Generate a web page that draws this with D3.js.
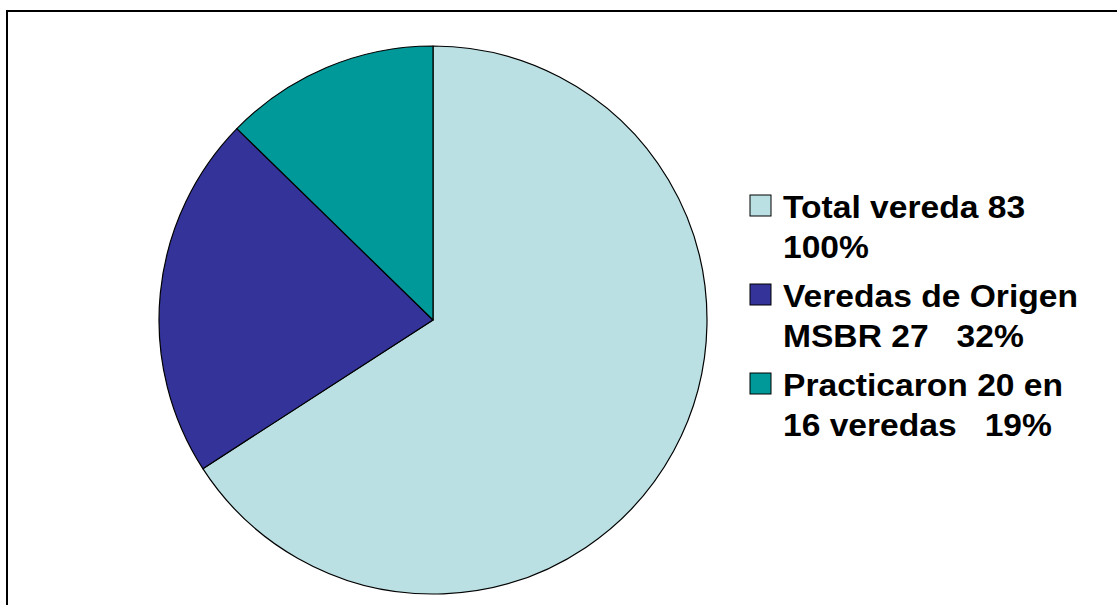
<!DOCTYPE html>
<html><head><meta charset="utf-8">
<script src="https://cdn.jsdelivr.net/npm/d3@7"></script>
<style>html,body{margin:0;padding:0;background:#fff;overflow:hidden}</style>
</head><body>
<svg id="c" width="1117" height="605"></svg>
<script>
const categories = ["Total vereda 83 100%", "Veredas de Origen MSBR 27 32%", "Practicaron 20 en 16 veredas 19%"];
const labelLines = [["Total vereda 83", "100%"], ["Veredas de Origen", "MSBR 27   32%"], ["Practicaron 20 en", "16 veredas   19%"]];
const values = [83, 27, 16];
const colors = ["#BBE0E3", "#333399", "#009999"];

const svg = d3.select("#c");
svg.append("rect").attr("x", 7).attr("y", 11).attr("width", 1300).attr("height", 800)
  .attr("fill", "#fff").attr("stroke", "#000").attr("stroke-width", 2);

const cx = 433, cy = 320, r = 274;
const pie = d3.pie().sort(null).value(d => d)(values);
const arc = d3.arc().innerRadius(0).outerRadius(r);
const g = svg.append("g").attr("transform", `translate(${cx},${cy})`);
g.selectAll("path").data(pie).join("path")
  .attr("d", arc).attr("fill", (d, i) => colors[i])
  .attr("stroke", "#000").attr("stroke-width", 1.2).attr("stroke-linejoin", "round");

const color = d3.scaleOrdinal().domain(categories).range(colors);
const leg = svg.append("g").attr("transform", "translate(750,195)");
const items = leg.selectAll("g").data(categories).join("g")
  .attr("transform", (d, i) => `translate(0,${i * 89})`);
items.append("rect").attr("width", 21).attr("height", 21)
  .attr("fill", d => color(d)).attr("stroke", "#000").attr("stroke-width", 1);
const sx = 1.05;
items.each(function(d, i) {
  const t = d3.select(this).append("text")
    .attr("font-family", "Liberation Sans, Arial, sans-serif")
    .attr("font-weight", "bold").attr("font-size", 32).attr("fill", "#000")
    .attr("transform", `scale(${sx},1)`)
    .style("white-space", "pre");
  labelLines[i].forEach((ln, j) => {
    t.append("tspan").attr("x", 33 / sx).attr("y", 23 + j * 40).text(ln);
  });
});
</script>
</body></html>
